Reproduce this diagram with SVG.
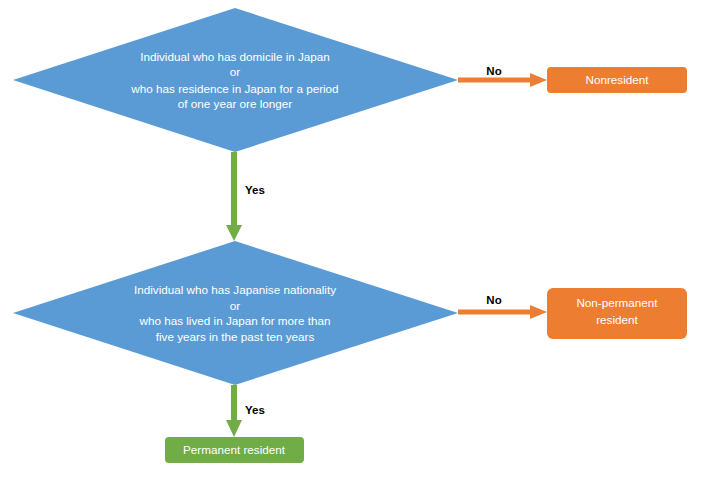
<svg xmlns="http://www.w3.org/2000/svg" width="710" height="480" viewBox="0 0 710 480">
<style>
.dia{fill:#5B9BD5;}
.term{fill:#ED7D31;}
.perm{fill:#70AD47;}
.t{font-family:"Liberation Sans",Arial,sans-serif;font-size:11.7px;fill:#ffffff;text-anchor:middle;}
.lbl{font-family:"Liberation Sans",Arial,sans-serif;font-size:11.5px;font-weight:bold;fill:#000000;text-anchor:middle;}
.no{stroke:#ED7D31;stroke-width:5;fill:none;}
.yes{stroke:#70AD47;stroke-width:6;fill:none;}
</style>
<rect width="710" height="480" fill="#ffffff"/>
<g id="connectors">
<line class="no" x1="458" y1="80" x2="532" y2="80"/>
<polygon points="530,73 547,80 530,87" fill="#ED7D31"/>
<line class="no" x1="458" y1="312" x2="532" y2="312"/>
<polygon points="530,305 547,312 530,319" fill="#ED7D31"/>
<line class="yes" x1="234" y1="152" x2="234" y2="227"/>
<polygon points="226,225 242,225 234,241" fill="#70AD47"/>
<line class="yes" x1="234" y1="385" x2="234" y2="422"/>
<polygon points="226,420 242,420 234,437" fill="#70AD47"/>
<text class="lbl" x="494" y="75">No</text>
<text class="lbl" x="494" y="304">No</text>
<text class="lbl" x="255" y="194">Yes</text>
<text class="lbl" x="255" y="414">Yes</text>
</g>
<g id="q1">
<polygon class="dia" points="235,8 458,80 235,152 13,80"/>
<text class="t" x="235" y="61">Individual who has domicile in Japan</text>
<text class="t" x="235" y="76">or</text>
<text class="t" x="235" y="93">who has residence in Japan for a period</text>
<text class="t" x="235" y="108">of one year ore longer</text>
</g>
<g id="nonresident">
<rect class="term" x="547" y="67" width="140" height="26" rx="4"/>
<text class="t" x="617" y="84">Nonresident</text>
</g>
<g id="q2">
<polygon class="dia" points="235,241 458,313 235,385 13,313"/>
<text class="t" x="235" y="294">Individual who has Japanise nationality</text>
<text class="t" x="235" y="310">or</text>
<text class="t" x="235" y="325">who has lived in Japan for more than</text>
<text class="t" x="235" y="341">five years in the past ten years</text>
</g>
<g id="nonpermanent">
<rect class="term" x="547" y="288" width="140" height="51" rx="6"/>
<text class="t" x="617" y="307">Non-permanent</text>
<text class="t" x="617" y="324">resident</text>
</g>
<g id="permanent">
<rect class="perm" x="165" y="437" width="139" height="26" rx="4"/>
<text class="t" x="234" y="454">Permanent resident</text>
</g>
</svg>
